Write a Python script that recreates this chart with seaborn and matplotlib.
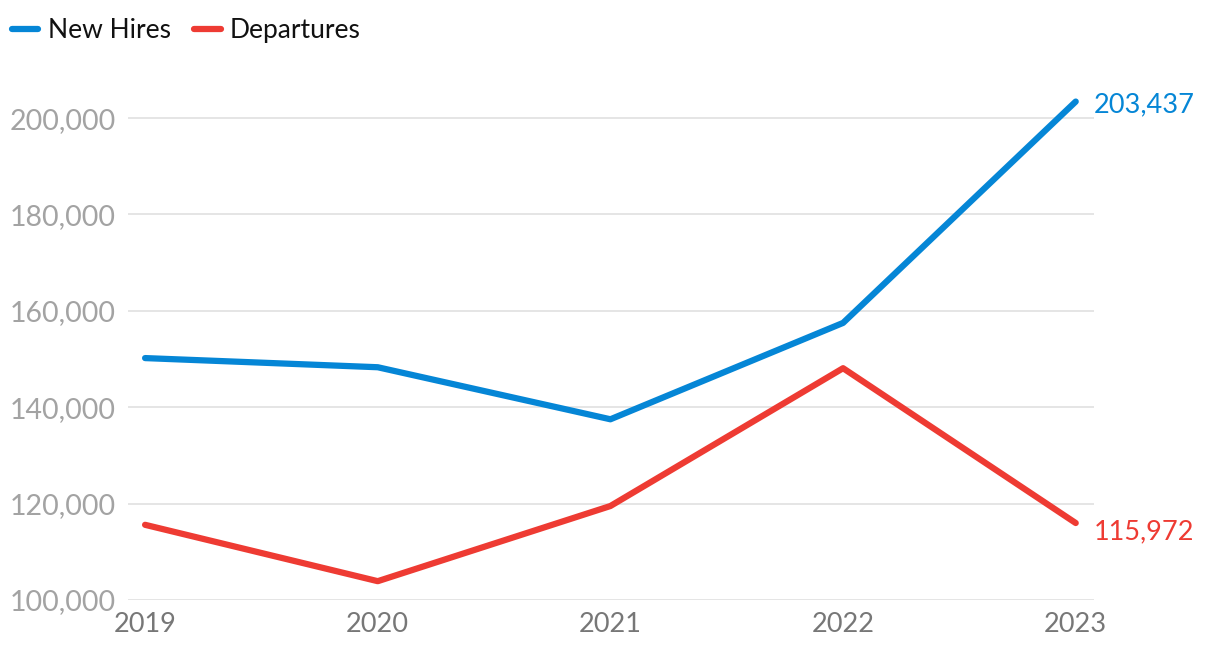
import matplotlib
matplotlib.use("Agg")

import numpy as np
import pandas as pd
import matplotlib.pyplot as plt
import seaborn as sns

years = [2019, 2020, 2021, 2022, 2023]
new_hires = [150200, 148300, 137500, 157500, 203437]
departures = [115600, 103900, 119500, 148100, 115972]
series_names = ["New Hires", "Departures"]
y_ticks = [100000, 120000, 140000, 160000, 180000, 200000]

blue = "#0586d6"
red = "#ee3b33"

df = pd.DataFrame({
    "Year": years * 2,
    "Value": new_hires + departures,
    "Series": [series_names[0]] * len(years) + [series_names[1]] * len(years),
})

sns.set_style("white")
plt.rcParams["font.family"] = ["Lato", "DejaVu Sans"]

fig = plt.figure(figsize=(12.2, 6.54), dpi=100)
ax = fig.add_axes([0.105, 0.0826, 0.792, 0.781])

sns.lineplot(data=df, x="Year", y="Value", hue="Series",
             palette=[blue, red], linewidth=4.5, ax=ax,
             solid_capstyle="round", legend=False)

ax.set_xlim(2018.927, 2023.08)
ax.set_ylim(100000, 206000)
ax.set_yticks(y_ticks)
ax.set_yticklabels([f"{v:,}" for v in y_ticks])
ax.set_xticks(years)
ax.set_xticklabels([str(y) for y in years])
ax.grid(axis="y", color="#e3e3e3", linewidth=1.3)
ax.set_axisbelow(True)
for s in ax.spines.values():
    s.set_visible(False)
ax.tick_params(axis="y", length=0, pad=9, labelsize=20.5, labelcolor="#a3a3a3")
ax.tick_params(axis="x", length=0, pad=9, labelsize=19.5, labelcolor="#777777")
ax.set_xlabel("")
ax.set_ylabel("")

# end labels
ax.annotate(f"{new_hires[-1]:,}", (years[-1], new_hires[-1]), xytext=(13, -2),
            textcoords="offset points", va="center", ha="left",
            color=blue, fontsize=19.5)
ax.annotate(f"{departures[-1]:,}", (years[-1], departures[-1]), xytext=(13, -6),
            textcoords="offset points", va="center", ha="left",
            color=red, fontsize=19.5)

handles = [plt.Line2D([], [], color=c, linewidth=4.5, solid_capstyle="round")
           for c in [blue, red]]
fig.legend(handles, series_names, loc="upper left", bbox_to_anchor=(0.0, 0.99),
           ncol=2, frameon=False, fontsize=19, handlelength=1.0,
           handletextpad=0.35, columnspacing=0.9, borderaxespad=0.15,
           borderpad=0.3, labelcolor="#111111")

plt.savefig("out.png", dpi=100)
plt.close()
